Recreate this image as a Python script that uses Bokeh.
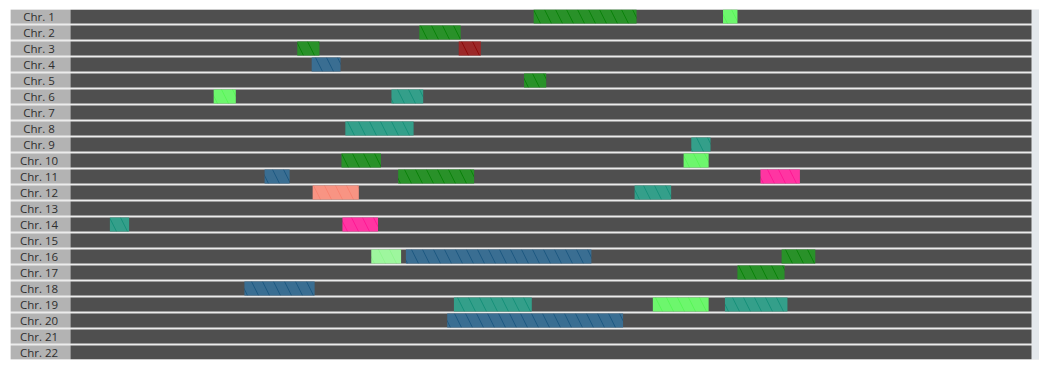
from bokeh.plotting import figure
from bokeh.models import Range1d, ColumnDataSource
from bokeh.embed import file_html
from bokeh.resources import INLINE
from bokeh.core.properties import value

# ---- data ----
chromosomes = [f"Chr. {i}" for i in range(1, 23)]

# segment: chromosome index (1-based), start %, end %, type
seg_chrom = [1, 1, 2, 3, 3, 4, 5, 6, 6, 8, 9, 10, 10, 11, 11, 11, 12, 12,
             14, 14, 16, 16, 16, 17, 18, 19, 19, 19, 20]
seg_start = [48.2, 67.9, 36.3, 23.6, 40.4, 25.1, 47.2, 14.9, 33.4, 28.6, 64.6, 28.2, 63.8,
             20.2, 34.1, 71.8, 25.2, 58.7, 4.1, 28.3, 31.3, 34.9, 74.0, 69.4, 18.1,
             39.9, 60.6, 68.1, 39.2]
seg_end = [58.9, 69.4, 40.6, 25.9, 42.7, 28.1, 49.5, 17.2, 36.7, 35.7, 66.6, 32.3, 66.4,
           22.8, 42.0, 75.9, 30.0, 62.5, 6.1, 32.0, 34.4, 54.2, 77.5, 74.3, 25.4,
           48.0, 66.4, 74.6, 57.5]
seg_type = ["gain", "amp", "gain", "gain", "loss2", "loss", "gain", "amp", "loh", "loh", "loh",
            "gain", "amp", "loss", "gain", "amp2", "loss3", "loh", "loh", "amp2", "gain2",
            "loss", "gain", "gain", "loss", "loh", "amp", "loh", "loss"]

type_colors = {
    "gain": "#067f06",
    "gain2": "#8ef58e",
    "amp": "#55f555",
    "amp2": "#ff1493",
    "loss": "#1a5680",
    "loss2": "#8b0505",
    "loss3": "#f7826f",
    "loh": "#138f77",
}

# ---- layout ----
n = len(chromosomes)
row_h = 14 / 16
bar_px = 961.0
px_per_unit = bar_px / 100.0
label_w = 60 / px_per_unit
strip_w = 8 / px_per_unit

p = figure(width=1039, height=361, output_backend="svg", toolbar_location=None,
           x_range=Range1d(-label_w, 100 + strip_w),
           y_range=Range1d(n - 2 / 16, 0),
           min_border_left=10, min_border_right=0, min_border_top=9, min_border_bottom=2)
p.axis.visible = False
p.grid.visible = False
p.outline_line_color = None
p.background_fill_color = "#ececec"
p.border_fill_color = "white"

rows = list(range(n))
tops = [r for r in rows]
bots = [r + row_h for r in rows]

# right strip
p.quad(left=[100], right=[100 + strip_w], top=[0], bottom=[n - 1 / 16],
       fill_color="#e4e8ec", line_color=None)

# label cells
p.quad(left=[-label_w] * n, right=[0] * n, top=tops, bottom=bots,
       fill_color="#b3b3b3", line_color=None)
# bars
p.quad(left=[0] * n, right=[100] * n, top=tops, bottom=bots,
       fill_color="#4f4f4f", line_color=None)

p.text(x=[-label_w / 2 - 1.5 / px_per_unit] * n, y=[r + row_h / 2 for r in rows], text=chromosomes,
       text_align="center", text_baseline="middle", text_font=value("Open Sans"),
       text_font_size="11.5px", text_color="#2e2e2e")

src = ColumnDataSource(dict(
    left=seg_start, right=seg_end,
    top=[c - 1 for c in seg_chrom], bottom=[c - 1 + row_h for c in seg_chrom],
    color=[type_colors[t] for t in seg_type],
))
p.quad(left="left", right="right", top="top", bottom="bottom", source=src,
       fill_color="color", line_color=None,
       hatch_pattern="left_diagonal_line", hatch_color="white", hatch_alpha=0.14,
       hatch_scale=22, hatch_weight=9)

open("out.html", "w").write(file_html(p, INLINE))
